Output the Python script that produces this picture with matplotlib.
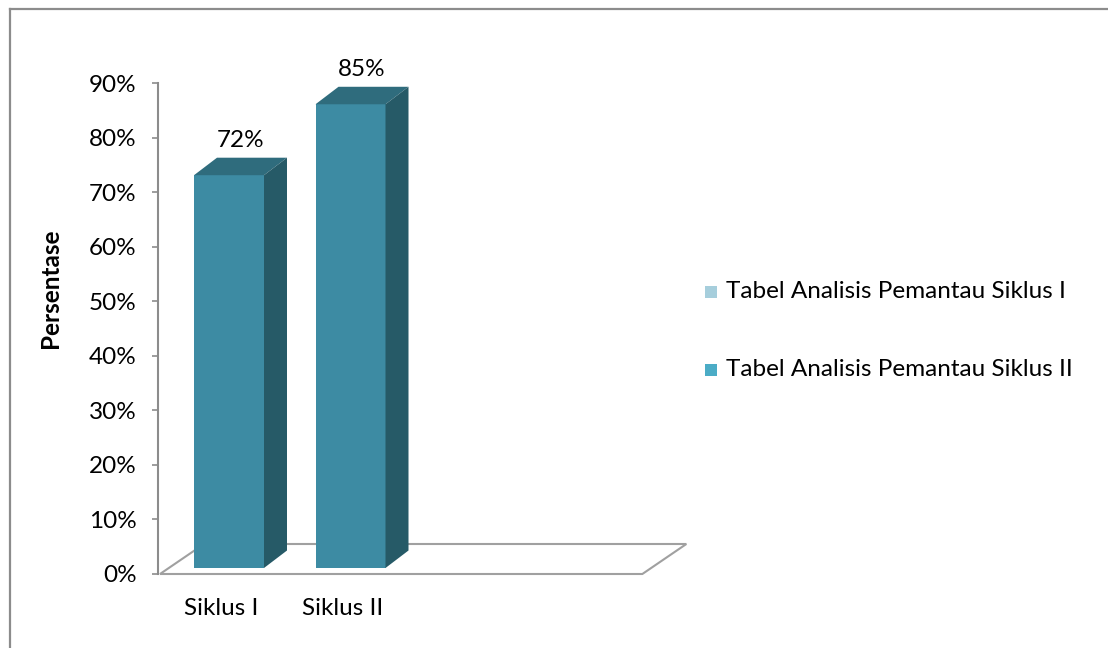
import matplotlib
matplotlib.use("Agg")
import matplotlib.pyplot as plt
from matplotlib.patches import Polygon, Rectangle
from matplotlib.lines import Line2D

# ---- data ----
categories = ["Siklus I", "Siklus II"]
values = [72, 85]
value_labels = ["72%", "85%"]
y_ticks = [0, 10, 20, 30, 40, 50, 60, 70, 80, 90]
y_tick_labels = ["0%", "10%", "20%", "30%", "40%", "50%", "60%", "70%", "80%", "90%"]
legend_labels = ["Tabel Analisis Pemantau Siklus I", "Tabel Analisis Pemantau Siklus II"]
y_label = "Persentase"

# ---- style ----
FONT = "Lato"
FS = 17.5
plt.rcParams["font.family"] = [FONT, "DejaVu Sans"]
c_front = "#3D8BA3"
c_top = "#2F6C7D"
c_side = "#265A67"
legend_colors = ["#A6CEDC", "#4BACC6"]
grey = "#8C8C8C"

W, H = 1108, 648
fig = plt.figure(figsize=(W / 100, H / 100), dpi=100)

# axes geometry in pixels
px_left, px_right, px_bottom, px_top = 158, 700, 574, 83
slot_px = 121.5
x0_px = 220.75  # front-plane centre of first category
ax = fig.add_axes([px_left / W, 1 - px_bottom / H, (px_right - px_left) / W, (px_bottom - px_top) / H])
xmin = (px_left - x0_px) / slot_px
xmax = (px_right - x0_px) / slot_px
ax.set_xlim(xmin, xmax)
ax.set_ylim(0, 90)
ppy = (px_bottom - px_top) / 90.0  # pixels per percent

# 3D geometry (data units)
floor_dx, floor_dy = 44 / slot_px, 30 / ppy
bar_dx, bar_dy = 23 / slot_px, 17.5 / ppy
bar_shift_x, bar_shift_y = 8.25 / slot_px, 6 / ppy
bar_w = 70 / slot_px
floor_x0, floor_x1 = -0.5, 3.47

# floor
floor = Polygon([(floor_x0, 0), (floor_x1, 0), (floor_x1 + floor_dx, floor_dy), (floor_x0 + floor_dx, floor_dy)],
                closed=True, facecolor="white", edgecolor="#A0A0A0", linewidth=1.5, zorder=1, clip_on=False)
ax.add_patch(floor)

# bars
for i, v in enumerate(values):
    xl = i + bar_shift_x - bar_w / 2
    xr = xl + bar_w
    b = bar_shift_y
    t = b + v
    front = Polygon([(xl, b), (xr, b), (xr, t), (xl, t)], closed=True, facecolor=c_front,
                    edgecolor="none", zorder=3, clip_on=False)
    top = Polygon([(xl, t), (xr, t), (xr + bar_dx, t + bar_dy), (xl + bar_dx, t + bar_dy)], closed=True,
                  facecolor=c_top, edgecolor="none", zorder=3, clip_on=False)
    side = Polygon([(xr, b), (xr + bar_dx, b + bar_dy), (xr + bar_dx, t + bar_dy), (xr, t)], closed=True,
                   facecolor=c_side, edgecolor="none", zorder=3, clip_on=False)
    for p in (front, top, side):
        ax.add_patch(p)
    ax.text((xl + xr + bar_dx) / 2, t + bar_dy + 1.3, value_labels[i], ha="center", va="bottom",
            fontsize=FS, color="black", clip_on=False)

# axes styling
for s in ("top", "right", "bottom"):
    ax.spines[s].set_visible(False)
ax.spines["left"].set_color(grey)
ax.spines["left"].set_linewidth(1.5)
ax.set_yticks(y_ticks)
ax.set_yticklabels(y_tick_labels, fontsize=FS)
ax.tick_params(axis="y", direction="out", length=4.5, width=1.2, color=grey, pad=11)
ax.set_xticks(range(len(categories)))
ax.set_xticklabels(categories, fontsize=FS)
ax.tick_params(axis="x", length=0, pad=17)
ax.patch.set_visible(False)

# y label
fig.text(50 / W, 1 - 288 / H, y_label, rotation=90, ha="center", va="center", fontsize=FS, fontweight="bold")

# legend (manual)
leg_y = [292, 370]
for lab, col, yy in zip(legend_labels, legend_colors, leg_y):
    fig.patches.append(Rectangle((705 / W, 1 - (yy + 6) / H), 12 / W, 12 / H, transform=fig.transFigure,
                                 facecolor=col, edgecolor="none"))
    fig.text(726 / W, 1 - yy / H, lab, ha="left", va="center", fontsize=FS)

# outer frame (partially visible)
fig.lines.append(Line2D([10 / W, 1.01], [1 - 8.5 / H, 1 - 8.5 / H], transform=fig.transFigure, color=grey, linewidth=1.6))
fig.lines.append(Line2D([10 / W, 10 / W], [1 - 8.5 / H, -0.01], transform=fig.transFigure, color=grey, linewidth=1.6))

fig.savefig("out.png", dpi=100, facecolor="white")
